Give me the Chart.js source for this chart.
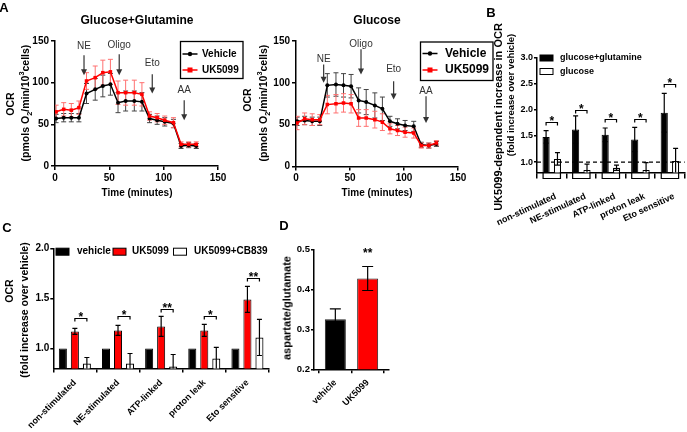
<!DOCTYPE html>
<html>
<head>
<meta charset="utf-8">
<script src="https://cdn.jsdelivr.net/npm/chart.js@4.4.1/dist/chart.umd.min.js"></script>
<style>
  body { margin: 0; background: #fff; }
  #wrap { position: relative; width: 687px; height: 432px; overflow: hidden;
          font-family: 'Liberation Sans', Arial, sans-serif; font-weight: bold; color: #000; }
  canvas { position: absolute; left: 0; top: 0; }
  .t { position: absolute; transform: translate(-50%, -50%); white-space: nowrap; line-height: 1; }
  .v { position: absolute; transform: translate(-50%, -50%) rotate(-90deg); white-space: nowrap; line-height: 1; }
  .v sub, .v sup { font-size: 70%; line-height: 0; }
</style>
</head>
<body>
<div id="wrap">
  <canvas id="cA1" width="687" height="432"></canvas>
  <canvas id="cA2" width="687" height="432"></canvas>
  <canvas id="cB" width="687" height="432"></canvas>
  <canvas id="cC" width="687" height="432"></canvas>
  <canvas id="cD" width="687" height="432"></canvas>

  <div class="t" style="left:4px;top:7px;font-size:13px">A</div>
  <div class="t" style="left:491px;top:12px;font-size:13px">B</div>
  <div class="t" style="left:7px;top:227px;font-size:13px">C</div>
  <div class="t" style="left:284px;top:225px;font-size:13px">D</div>

  <div class="t" style="left:137px;top:20px;font-size:12px">Glucose+Glutamine</div>
  <div class="t" style="left:377px;top:20px;font-size:12px">Glucose</div>
  <div class="t" style="left:137px;top:193px;font-size:10px">Time (minutes)</div>
  <div class="t" style="left:377px;top:193px;font-size:10px">Time (minutes)</div>

  <div class="v" style="left:10px;top:104px;font-size:10.5px">OCR</div>
  <div class="v" style="left:25px;top:103px;font-size:10.5px">(pmols O<sub>2</sub>/min/10<sup>3</sup>cells)</div>
  <div class="v" style="left:247px;top:100px;font-size:10.5px">OCR</div>
  <div class="v" style="left:263px;top:103px;font-size:10.5px">(pmols O<sub>2</sub>/min/10<sup>3</sup>cells)</div>

  <div class="v" style="left:498px;top:117px;font-size:11px">UK5099-dependent increase in OCR</div>
  <div class="v" style="left:511px;top:95px;font-size:9.5px">(fold increase over vehicle)</div>

  <div class="v" style="left:9px;top:291px;font-size:10.5px">OCR</div>
  <div class="v" style="left:24px;top:310px;font-size:10.5px">(fold increase over vehicle)</div>

  <div class="v" style="left:287px;top:308px;font-size:11px">aspartate/glutamate</div>
</div>

<script>
// ---- data ----
const times = [1, 8, 15, 22, 29, 37, 44, 51, 58, 65, 73, 80, 87, 94, 101, 109, 116, 123, 130];

// A, glucose + glutamine
const glnVehicle   = [57, 58, 58, 58, 87, 92, 96, 98, 76, 78, 78, 77, 57, 55, 53, 51, 24, 25, 24];
const glnVehicleSd = [5, 5, 5, 5, 12, 13, 13, 13, 12, 12, 12, 11, 5, 5, 5, 5, 3, 3, 3];
const glnUK        = [65, 68, 67, 70, 102, 106, 112, 113, 88, 88, 88, 86, 60, 58, 55, 52, 26, 26, 26];
const glnUKSd      = [8, 8, 8, 8, 10, 14, 15, 15, 14, 15, 15, 14, 5, 5, 5, 6, 3, 3, 3];

// A, glucose only
const gluVehicle   = [54, 55, 54, 54, 97, 98, 97, 96, 79, 77, 73, 69, 54, 51, 49, 48, 26, 25, 27];
const gluVehicleSd = [5, 5, 5, 5, 14, 14, 14, 14, 15, 15, 15, 14, 6, 6, 6, 6, 3, 3, 3];
const gluUK        = [52, 57, 56, 56, 74, 75, 76, 75, 58, 58, 56, 53, 45, 43, 41, 40, 25, 25, 28];
const gluUKSd      = [8, 7, 7, 6, 11, 11, 11, 11, 10, 10, 10, 10, 6, 6, 6, 6, 3, 3, 3];

// B
const categories = ['non-stimulated', 'NE-stimulated', 'ATP-linked', 'proton leak', 'Eto sensitive'];
const bGlnGlc    = [1.48, 1.62, 1.52, 1.43, 1.94];
const bGlnGlcErr = [0.12, 0.26, 0.13, 0.23, 0.37];
const bGlc       = [1.06, 0.85, 0.89, 0.85, 1.02];
const bGlcErr    = [0.12, 0.11, 0.05, 0.14, 0.24];
const bTicks     = [1.0, 1.5, 2.0, 2.5, 3.0];
const bSigY      = [1.76, 2.0, 1.83, 1.83, 2.49];
const bSig       = ['*', '*', '*', '*', '*'];

// C
const cVehicle = [1, 1, 1, 1, 1];
const cUK      = [1.17, 1.18, 1.22, 1.18, 1.49];
const cUKErr   = [0.03, 0.05, 0.10, 0.06, 0.13];
const cCB      = [0.85, 0.85, 0.82, 0.90, 1.11];
const cCBErr   = [0.06, 0.10, 0.12, 0.11, 0.18];
const cTicks   = [1.0, 1.5, 2.0];
const cSigY    = [1.30, 1.32, 1.39, 1.32, 1.70];
const cSig     = ['*', '*', '**', '*', '**'];

// D
const dCats  = ['vehicle', 'UK5099'];
const dVals  = [0.325, 0.427];
const dErr   = [0.026, 0.030];
const dTicks = [0.2, 0.3, 0.4, 0.5];

// ---- setup ----
const FONT = "'Liberation Sans', Arial, sans-serif";
Chart.defaults.font.family = FONT;
Chart.defaults.font.weight = 'bold';
Chart.defaults.color = '#000';
const W = 687, H = 432;
const RED = '#ff0000';

// chart area is pinned by padding + fixed scale sizes (y axis 30 wide, x axis xh tall)
function pad(a, xh) {
  return { left: a.l - 30, top: a.t, right: W - a.r, bottom: H - a.b - xh };
}
function axis(size, tl, tpad, more) {
  const o = {
    border: { color: '#000', width: 1.5 },
    grid: { drawOnChartArea: false, drawTicks: true, tickLength: tl, color: '#000', lineWidth: 1.5 },
    ticks: { color: '#000', font: { size: size, weight: 'bold' }, padding: tpad }
  };
  if (more) {
    Object.assign(o.ticks, more.ticks || {});
    delete more.ticks;
    Object.assign(o, more);
  }
  return o;
}
const fixW = s => { s.width = 30; };
const fixH = h => s => { s.height = h; };

// error bars from dataset.err
function errPlugin(hook) {
  return {
    id: 'err_' + hook,
    [hook](chart) {
      const ctx = chart.ctx, ys = chart.scales.y, ca = chart.chartArea;
      ctx.save();
      ctx.beginPath();
      ctx.rect(ca.left, 0, ca.right - ca.left + 5, ca.bottom);
      ctx.clip();
      chart.data.datasets.forEach((ds, di) => {
        if (!ds.err) return;
        const meta = chart.getDatasetMeta(di);
        ctx.strokeStyle = ds.errColor;
        ctx.lineWidth = ds.errWidth || 1;
        meta.data.forEach((el, i) => {
          const raw = ds.data[i];
          const v = typeof raw === 'object' ? raw.y : raw;
          const e = ds.err[i], x = el.x, c = ds.errCap;
          const y1 = ys.getPixelForValue(v + e);
          const y2 = ys.getPixelForValue(ds.errUp ? v : v - e);
          ctx.beginPath();
          ctx.moveTo(x, y1); ctx.lineTo(x, y2);
          ctx.moveTo(x - c, y1); ctx.lineTo(x + c, y1);
          if (!ds.errUp) { ctx.moveTo(x - c, y2); ctx.lineTo(x + c, y2); }
          ctx.stroke();
        });
      });
      ctx.restore();
    }
  };
}

// injection arrows for panel A
function arrowPlugin(list) {
  return {
    id: 'arrows',
    afterDatasetsDraw(chart) {
      const ctx = chart.ctx, xs = chart.scales.x, ys = chart.scales.y;
      ctx.save();
      ctx.strokeStyle = '#333'; ctx.fillStyle = '#333'; ctx.lineWidth = 1.2;
      ctx.font = '10px ' + FONT; ctx.textAlign = 'center'; ctx.textBaseline = 'middle';
      list.forEach(a => {
        const x = xs.getPixelForValue(a.t);
        const y0 = ys.getPixelForValue(a.top), y1 = ys.getPixelForValue(a.tip);
        ctx.beginPath(); ctx.moveTo(x, y0); ctx.lineTo(x, y1 - 5); ctx.stroke();
        ctx.beginPath(); ctx.moveTo(x - 3, y1 - 6); ctx.lineTo(x + 3, y1 - 6); ctx.lineTo(x, y1); ctx.closePath(); ctx.fill();
        ctx.fillText(a.text, x, ys.getPixelForValue(a.label));
      });
      ctx.restore();
    }
  };
}

// boxed legend for the line charts
function lineLegend(box) {
  return {
    id: 'lineleg',
    afterDraw(chart) {
      const ctx = chart.ctx;
      ctx.save();
      ctx.fillStyle = '#fff';
      ctx.fillRect(box.x, box.y, box.w, box.h);
      ctx.strokeStyle = '#000'; ctx.lineWidth = 1.3;
      ctx.strokeRect(box.x, box.y, box.w, box.h);
      chart.data.datasets.forEach((ds, i) => {
        const y = box.y + box.rows[i];
        ctx.strokeStyle = ds.borderColor; ctx.lineWidth = 1.5;
        ctx.beginPath(); ctx.moveTo(box.x + 2, y); ctx.lineTo(box.x + box.sample, y); ctx.stroke();
        ctx.fillStyle = ds.borderColor;
        const mx = box.x + 2 + (box.sample - 2) / 2;
        if (ds.pointStyle === 'rect') ctx.fillRect(mx - 2.5, y - 2.5, 5, 5);
        else { ctx.beginPath(); ctx.arc(mx, y, 2.2, 0, Math.PI * 2); ctx.fill(); }
        ctx.fillStyle = '#000';
        ctx.font = 'bold ' + box.font + 'px ' + FONT;
        ctx.textAlign = 'left'; ctx.textBaseline = 'middle';
        ctx.fillText(ds.label, box.x + box.text, y);
      });
      ctx.restore();
    }
  };
}

// legend with filled boxes for the bar charts
function boxLegend(spots, font, bw, bh) {
  return {
    id: 'boxleg',
    afterDraw(chart) {
      const ctx = chart.ctx;
      ctx.save();
      ctx.font = 'bold ' + font + 'px ' + FONT;
      ctx.textAlign = 'left'; ctx.textBaseline = 'middle';
      chart.data.datasets.forEach((ds, i) => {
        const s = spots[i];
        ctx.fillStyle = ds.backgroundColor;
        ctx.fillRect(s.x, s.y - bh / 2, bw, bh);
        ctx.strokeStyle = '#000'; ctx.lineWidth = 1;
        ctx.strokeRect(s.x, s.y - bh / 2, bw, bh);
        ctx.fillStyle = '#000';
        ctx.fillText(ds.label, s.tx, s.y);
      });
      ctx.restore();
    }
  };
}

// significance brackets between two datasets
function sigPlugin(a, b, ys, marks, font) {
  return {
    id: 'sig',
    afterDatasetsDraw(chart) {
      const ctx = chart.ctx, sc = chart.scales.y;
      const ma = chart.getDatasetMeta(a), mb = chart.getDatasetMeta(b);
      ctx.save();
      ctx.strokeStyle = '#000'; ctx.fillStyle = '#000'; ctx.lineWidth = 1.2;
      ctx.font = 'bold ' + font + 'px ' + FONT;
      ctx.textAlign = 'center'; ctx.textBaseline = 'alphabetic';
      ma.data.forEach((el, i) => {
        const x1 = el.x, x2 = mb.data[i].x, y = Math.round(sc.getPixelForValue(ys[i])) + 0.5;
        ctx.beginPath();
        ctx.moveTo(x1, y + 3); ctx.lineTo(x1, y); ctx.lineTo(x2, y); ctx.lineTo(x2, y + 3);
        ctx.stroke();
        ctx.fillText(marks[i], (x1 + x2) / 2, y + 2);
      });
      ctx.restore();
    }
  };
}

// ---- panel A ----
function makeLine(id, area, veh, vehSd, uk, ukSd, box, arrows) {
  new Chart(document.getElementById(id), {
    type: 'line',
    data: {
      datasets: [
        { label: 'Vehicle', data: times.map((t, i) => ({ x: t, y: veh[i] })),
          borderColor: '#000', backgroundColor: '#000', borderWidth: 1.5,
          pointStyle: 'circle', pointRadius: 2, pointBorderWidth: 0, order: 1,
          err: vehSd, errColor: '#444', errCap: 2.5, errWidth: 1 },
        { label: 'UK5099', data: times.map((t, i) => ({ x: t, y: uk[i] })),
          borderColor: RED, backgroundColor: RED, borderWidth: 1.5,
          pointStyle: 'rect', pointRadius: 2.5, pointBorderWidth: 0, order: 0,
          err: ukSd, errColor: '#ff7070', errCap: 2.5, errWidth: 1 }
      ]
    },
    options: {
      responsive: false, animation: false, events: [],
      layout: { padding: pad(area, 30) },
      plugins: { legend: { display: false }, tooltip: { enabled: false } },
      elements: { line: { tension: 0 } },
      scales: {
        x: axis(10, 4, 2, { type: 'linear', min: 0, max: 150, ticks: { stepSize: 50 }, afterFit: fixH(30) }),
        y: axis(10, 4, 2, { min: 0, max: 150, ticks: { stepSize: 50 }, afterFit: fixW })
      }
    },
    plugins: [errPlugin('beforeDatasetsDraw'), arrowPlugin(arrows), lineLegend(box)]
  });
}

makeLine('cA1', { l: 55, t: 41, r: 218, b: 166 }, glnVehicle, glnVehicleSd, glnUK, glnUKSd,
  { x: 180.5, y: 41.5, w: 62.5, h: 37, rows: [12.5, 28.5], sample: 17, text: 21.5, font: 10 },
  [{ text: 'NE', t: 26.7, label: 144, top: 133, tip: 109 },
   { text: 'Oligo', t: 59.1, label: 145, top: 134, tip: 109 },
   { text: 'Eto', t: 89.5, label: 123, top: 110, tip: 87 },
   { text: 'AA', t: 118.9, label: 91, top: 79, tip: 55 }]);

makeLine('cA2', { l: 296, t: 41, r: 458, b: 166.5 }, gluVehicle, gluVehicleSd, gluUK, gluUKSd,
  { x: 420.5, y: 42, w: 72.5, h: 38.5, rows: [11.5, 28], sample: 17, text: 24.5, font: 12 },
  [{ text: 'NE', t: 25.6, label: 128, top: 122, tip: 100 },
   { text: 'Oligo', t: 60.2, label: 146, top: 140, tip: 110 },
   { text: 'Eto', t: 90.4, label: 116, top: 102, tip: 80 },
   { text: 'AA', t: 120.4, label: 90, top: 84, tip: 52 }]);

// ---- panel B ----
new Chart(document.getElementById('cB'), {
  type: 'bar',
  data: {
    labels: categories,
    datasets: [
      { label: 'glucose+glutamine', data: bGlnGlc, backgroundColor: '#000', borderColor: '#000', borderWidth: 1,
        err: bGlnGlcErr, errColor: '#000', errCap: 2.5, errWidth: 1.2 },
      { label: 'glucose', data: bGlc, backgroundColor: '#fff', borderColor: '#000', borderWidth: 1.2,
        err: bGlcErr, errColor: '#000', errCap: 2.5, errWidth: 1.2 }
    ]
  },
  options: {
    responsive: false, animation: false, events: [],
    layout: { padding: pad({ l: 537, t: 57.3, r: 687, b: 172.5 }, 70) },
    plugins: { legend: { display: false }, tooltip: { enabled: false } },
    datasets: { bar: { categoryPercentage: 0.77, barPercentage: 0.63 } },
    scales: {
      x: axis(9, 6, 12.5, { ticks: { minRotation: 25, maxRotation: 25, autoSkip: false, labelOffset: 4 }, afterFit: fixH(70) }),
      y: axis(9, 3, 1, { min: 0.8, max: 3.0, afterFit: fixW,
        afterBuildTicks: s => { s.ticks = bTicks.map(v => ({ value: v })); },
        ticks: { callback: v => Number(v).toFixed(1) } })
    }
  },
  plugins: [
    errPlugin('afterDatasetsDraw'),
    sigPlugin(0, 1, bSigY, bSig, 12),
    {
      id: 'extrasB',
      afterDatasetsDraw(chart) {
        const ctx = chart.ctx, ca = chart.chartArea, y1 = chart.scales.y.getPixelForValue(1);
        ctx.save();
        ctx.strokeStyle = '#000'; ctx.lineWidth = 1.2; ctx.setLineDash([4, 3]);
        ctx.beginPath(); ctx.moveTo(ca.left, y1); ctx.lineTo(ca.right, y1); ctx.stroke();
        ctx.setLineDash([]);
        const ma = chart.getDatasetMeta(0), mb = chart.getDatasetMeta(1), yb = ca.bottom;
        ctx.beginPath();
        ma.data.forEach((el, i) => {
          const x1 = el.x - 3, x2 = mb.data[i].x + 3;
          ctx.moveTo(x1, yb); ctx.lineTo(x1, yb + 6); ctx.lineTo(x2, yb + 6); ctx.lineTo(x2, yb);
        });
        ctx.stroke();
        ctx.restore();
      }
    },
    boxLegend([{ x: 540, y: 58, tx: 560 }, { x: 540, y: 71.5, tx: 560 }], 9, 13, 6)
  ]
});

// ---- panel C ----
new Chart(document.getElementById('cC'), {
  type: 'bar',
  data: {
    labels: categories,
    datasets: [
      { label: 'vehicle', data: cVehicle, backgroundColor: '#000', borderColor: '#000', borderWidth: 1 },
      { label: 'UK5099', data: cUK, backgroundColor: RED, borderColor: '#000', borderWidth: 1,
        err: cUKErr, errColor: '#000', errCap: 2.5, errWidth: 1.2 },
      { label: 'UK5099+CB839', data: cCB, backgroundColor: '#fff', borderColor: '#000', borderWidth: 1.2,
        err: cCBErr, errColor: '#000', errCap: 2.5, errWidth: 1.2 }
    ]
  },
  options: {
    responsive: false, animation: false, events: [],
    layout: { padding: pad({ l: 53.3, t: 248.3, r: 269, b: 368.5 }, 60) },
    plugins: { legend: { display: false }, tooltip: { enabled: false } },
    datasets: { bar: { categoryPercentage: 0.835, barPercentage: 0.67 } },
    scales: {
      x: axis(9, 4, 5, { ticks: { minRotation: 45, maxRotation: 45, autoSkip: false }, afterFit: fixH(60) }),
      y: axis(10, 3, 1, { min: 0.8, max: 2.0, afterFit: fixW,
        afterBuildTicks: s => { s.ticks = cTicks.map(v => ({ value: v })); },
        ticks: { callback: v => Number(v).toFixed(1) } })
    }
  },
  plugins: [
    errPlugin('afterDatasetsDraw'),
    sigPlugin(1, 2, cSigY, cSig, 12),
    boxLegend([{ x: 56, y: 251.7, tx: 77 }, { x: 113, y: 251.7, tx: 132 }, { x: 173.5, y: 251.7, tx: 194 }], 10, 13, 7)
  ]
});

// ---- panel D ----
new Chart(document.getElementById('cD'), {
  type: 'bar',
  data: {
    datasets: [
      { label: 'aspartate/glutamate', data: dVals.map((v, i) => ({ x: i, y: v })),
        backgroundColor: ['#000', RED], borderColor: '#222', borderWidth: 1,
        barPercentage: 0.65, categoryPercentage: 1,
        err: dErr, errColor: '#000', errCap: 5.5, errWidth: 1.2 }
    ]
  },
  options: {
    responsive: false, animation: false, events: [],
    layout: { padding: pad({ l: 314, t: 249.3, r: 389, b: 369.3 }, 60) },
    plugins: { legend: { display: false }, tooltip: { enabled: false } },
    scales: {
      x: axis(9, 4, 4, { type: 'linear', min: -0.66, max: 1.66, offset: false,
        afterBuildTicks: s => { s.ticks = dCats.map((c, i) => ({ value: i })); },
        ticks: { minRotation: 45, maxRotation: 45, autoSkip: false, callback: v => dCats[v] },
        afterFit: fixH(60) }),
      y: axis(9.5, 3, 1, { min: 0.2, max: 0.5, afterFit: fixW,
        afterBuildTicks: s => { s.ticks = dTicks.map(v => ({ value: v })); },
        ticks: { callback: v => Number(v).toFixed(1) } })
    }
  },
  plugins: [
    errPlugin('afterDatasetsDraw'),
    {
      id: 'starD',
      afterDatasetsDraw(chart) {
        const ctx = chart.ctx, el = chart.getDatasetMeta(0).data[1];
        ctx.save();
        ctx.fillStyle = '#000'; ctx.font = 'bold 12px ' + FONT;
        ctx.textAlign = 'center'; ctx.textBaseline = 'alphabetic';
        ctx.fillText('**', el.x, chart.scales.y.getPixelForValue(0.48));
        ctx.restore();
      }
    }
  ]
});
</script>
</body>
</html>
